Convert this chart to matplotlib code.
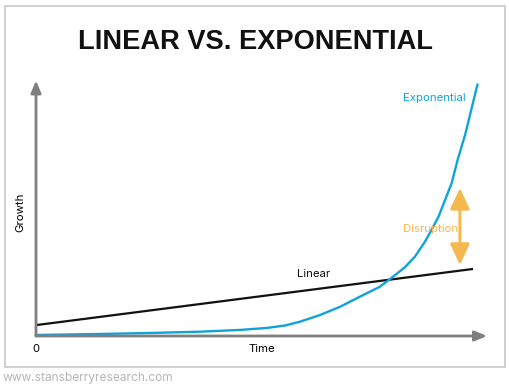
import matplotlib
matplotlib.use("Agg")
import matplotlib.pyplot as plt
from matplotlib.patches import Rectangle, FancyArrowPatch

# Data (time units 0..10, growth 0..100)
exp_t = [0, 1.46, 2.61, 3.75, 4.67, 5.29, 5.70, 6.04, 6.50, 6.96, 7.41, 7.87, 8.17, 8.44,
         8.67, 8.90, 9.05, 9.21, 9.36, 9.51, 9.66, 9.82, 9.97, 10.10]
exp_g = [0.4, 0.8, 1.2, 1.7, 2.4, 3.2, 4.15, 5.65, 8.3, 11.58, 15.53, 19.49, 23.44, 27.15,
         31.34, 37.27, 41.9, 47.15, 53.75, 60.36, 70.36, 79.57, 90.12, 99.33]
lin_t = [0, 10]
lin_g = [4.3, 26.5]
disrupt_t = 9.70
disrupt_range = [28.1, 58.5]

BLUE = "#0FA3DC"
ORANGE = "#F5B84F"
W, H = 510, 390

fig = plt.figure(figsize=(W / 100, H / 100), dpi=100)
fig.patch.set_facecolor("white")

# outer border
fig.patches.append(Rectangle((5 / W, (H - 367) / H), 500 / W, 361 / H,
                             transform=fig.transFigure, fill=False,
                             edgecolor="#c8c8c8", linewidth=1.2))

fig.text(256 / W, 1 - 42 / H, "LINEAR VS. EXPONENTIAL", ha="center", va="center",
         fontsize=19.6, fontweight="heavy", family="Liberation Sans", color="#111111")
fig.text(3 / W, 1 - 378 / H, "www.stansberryresearch.com", ha="left", va="center",
         fontsize=8.6, color="#b5b5b5", family="Inter")

x0, y0, x1, y1 = 36, 336, 487, 83
ax = fig.add_axes([x0 / W, (H - y0) / H, (x1 - x0) / W, (y0 - y1) / H])
ax.set_xlim(0, 10.32)
ax.set_ylim(0, 100)
ax.axis("off")

# axes with arrows
ax.annotate("", xy=(1.0, 0), xytext=(0, 0), xycoords="axes fraction",
            arrowprops=dict(arrowstyle="-|>,head_length=0.6,head_width=0.25", color="#7f7f7f",
                            lw=2, shrinkA=0, shrinkB=0, mutation_scale=12))
ax.annotate("", xy=(0, 1.01), xytext=(0, 0), xycoords="axes fraction",
            arrowprops=dict(arrowstyle="-|>,head_length=0.6,head_width=0.25", color="#7f7f7f",
                            lw=2, shrinkA=0, shrinkB=0, mutation_scale=12))

ax.plot(lin_t, lin_g, color="#111111", lw=1.6, solid_capstyle="butt", clip_on=False)
ax.plot(exp_t, exp_g, color=BLUE, lw=1.7, clip_on=False, solid_joinstyle="round")

arr = FancyArrowPatch((disrupt_t, disrupt_range[0]), (disrupt_t, disrupt_range[1]),
                      arrowstyle="<|-|>,head_length=0.9,head_width=0.42", mutation_scale=14,
                      color=ORANGE, lw=2.2, shrinkA=0, shrinkB=0)
ax.add_patch(arr)

ax.text(9.11, 94, "Exponential", color=BLUE, fontsize=8.2, ha="center", va="center", family="Inter")
ax.text(9.02, 42.3, "Disruption", color=ORANGE, fontsize=8.2, ha="center", va="center", family="Inter")
ax.text(6.36, 24.5, "Linear", color="#111111", fontsize=8.2, ha="center", va="center", family="Inter")

fig.text(36 / W, 1 - 349 / H, "0", ha="center", va="center", fontsize=8.2, family="Inter")
fig.text(262 / W, 1 - 349 / H, "Time", ha="center", va="center", fontsize=8.2, family="Inter")
fig.text(20 / W, 1 - 212 / H, "Growth", ha="center", va="center", fontsize=8.2,
         rotation=90, family="Inter")

fig.savefig("out.png", dpi=100)
